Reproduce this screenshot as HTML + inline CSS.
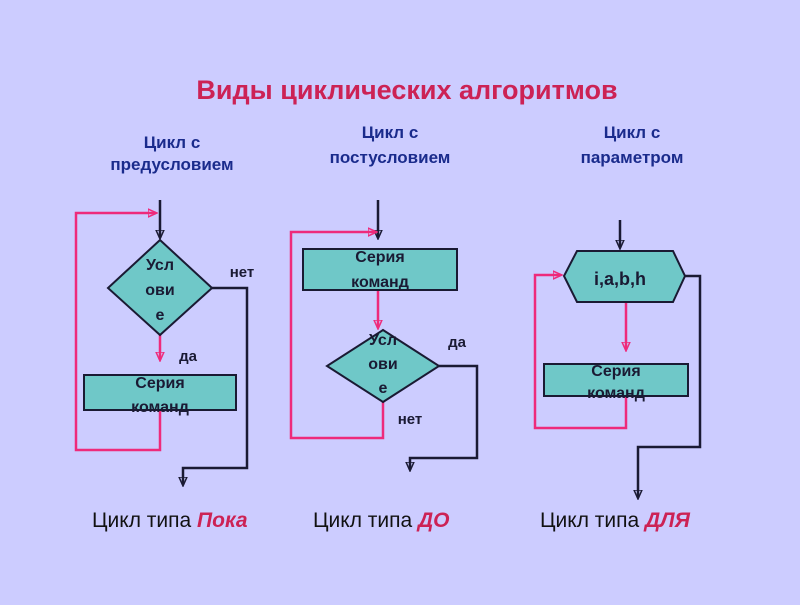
<!DOCTYPE html><html><head><meta charset="utf-8"><style>
body{margin:0;width:800px;height:600px;background:#ccccff;overflow:hidden}
svg text{font-family:"Liberation Sans",sans-serif}
</style></head><body>
<svg width="800" height="600" viewBox="0 0 800 600">
<defs>
<marker id="ab" markerWidth="10" markerHeight="10" refX="8" refY="5" orient="auto" markerUnits="userSpaceOnUse"><path d="M0,1 L9,5 L0,9 Z" fill="none" stroke="#1a1a33" stroke-width="1.5"/></marker>
<marker id="ap" markerWidth="10" markerHeight="10" refX="8" refY="5" orient="auto" markerUnits="userSpaceOnUse"><path d="M0,1 L9,5 L0,9 Z" fill="none" stroke="#ee2a7b" stroke-width="1.5"/></marker>
</defs>
<text x="407" y="99" text-anchor="middle" font-size="27" font-weight="bold" fill="#cc2255">Виды циклических алгоритмов</text>
<g font-size="17" font-weight="bold" fill="#1a2b8c" text-anchor="middle">
<text x="172" y="148">Цикл с</text><text x="172" y="170">предусловием</text>
<text x="390" y="138">Цикл с</text><text x="390" y="163">постусловием</text>
<text x="632" y="138">Цикл с</text><text x="632" y="163">параметром</text>
</g>
<g fill="none" stroke-width="2.5">
<path d="M160,200 V238" stroke="#1a1a33" marker-end="url(#ab)"/>
<path d="M160,335 V360" stroke="#ee2a7b" marker-end="url(#ap)"/>
<path d="M160,410 V450 H76 V213 H156" stroke="#ee2a7b" marker-end="url(#ap)"/>
<path d="M212,288 H247 V468 H183 V485" stroke="#1a1a33" marker-end="url(#ab)"/>
<path d="M378,200 V238" stroke="#1a1a33" marker-end="url(#ab)"/>
<path d="M378,290 V328" stroke="#ee2a7b" marker-end="url(#ap)"/>
<path d="M383,402 V438 H291 V232 H376" stroke="#ee2a7b" marker-end="url(#ap)"/>
<path d="M439,366 H477 V458 H410 V470" stroke="#1a1a33" marker-end="url(#ab)"/>
<path d="M620,220 V248" stroke="#1a1a33" marker-end="url(#ab)"/>
<path d="M626,302 V350" stroke="#ee2a7b" marker-end="url(#ap)"/>
<path d="M626,396 V428 H535 V275 H561" stroke="#ee2a7b" marker-end="url(#ap)"/>
<path d="M685,276 H700 V447 H638 V498" stroke="#1a1a33" marker-end="url(#ab)"/>
</g>
<g fill="#6fc8c8" stroke="#1a1a33" stroke-width="2">
<polygon points="160,240 212,288 160,335 108,288"/>
<rect x="84" y="375" width="152" height="35"/>
<rect x="303" y="249" width="154" height="41"/>
<polygon points="383,330 439,366 383,402 327,366"/>
<polygon points="564,276 577,251 673,251 685,276 673,302 577,302"/>
<rect x="544" y="364" width="144" height="32"/>
</g>
<g font-size="16" font-weight="bold" fill="#1a1a33" text-anchor="middle">
<text x="160" y="270">Усл</text><text x="160" y="295">ови</text><text x="160" y="320">е</text>
<text x="160" y="388">Серия</text><text x="160" y="412">команд</text>
<text x="380" y="262">Серия</text><text x="380" y="287">команд</text>
<text x="383" y="345">Усл</text><text x="383" y="369">ови</text><text x="383" y="393">е</text>
<text x="620" y="285" font-size="18">i,a,b,h</text>
<text x="616" y="376">Серия</text><text x="616" y="398">команд</text>
<text x="242" y="277" font-size="15">нет</text>
<text x="188" y="361" font-size="15">да</text>
<text x="457" y="347" font-size="15">да</text>
<text x="410" y="424" font-size="15">нет</text>
</g>
<g font-size="21" fill="#111">
<text x="92" y="527">Цикл типа <tspan fill="#cc2255" font-weight="bold" font-style="italic">Пока</tspan></text>
<text x="313" y="527">Цикл типа <tspan fill="#cc2255" font-weight="bold" font-style="italic">ДО</tspan></text>
<text x="540" y="527">Цикл типа <tspan fill="#cc2255" font-weight="bold" font-style="italic">ДЛЯ</tspan></text>
</g>
</svg>
</body></html>
